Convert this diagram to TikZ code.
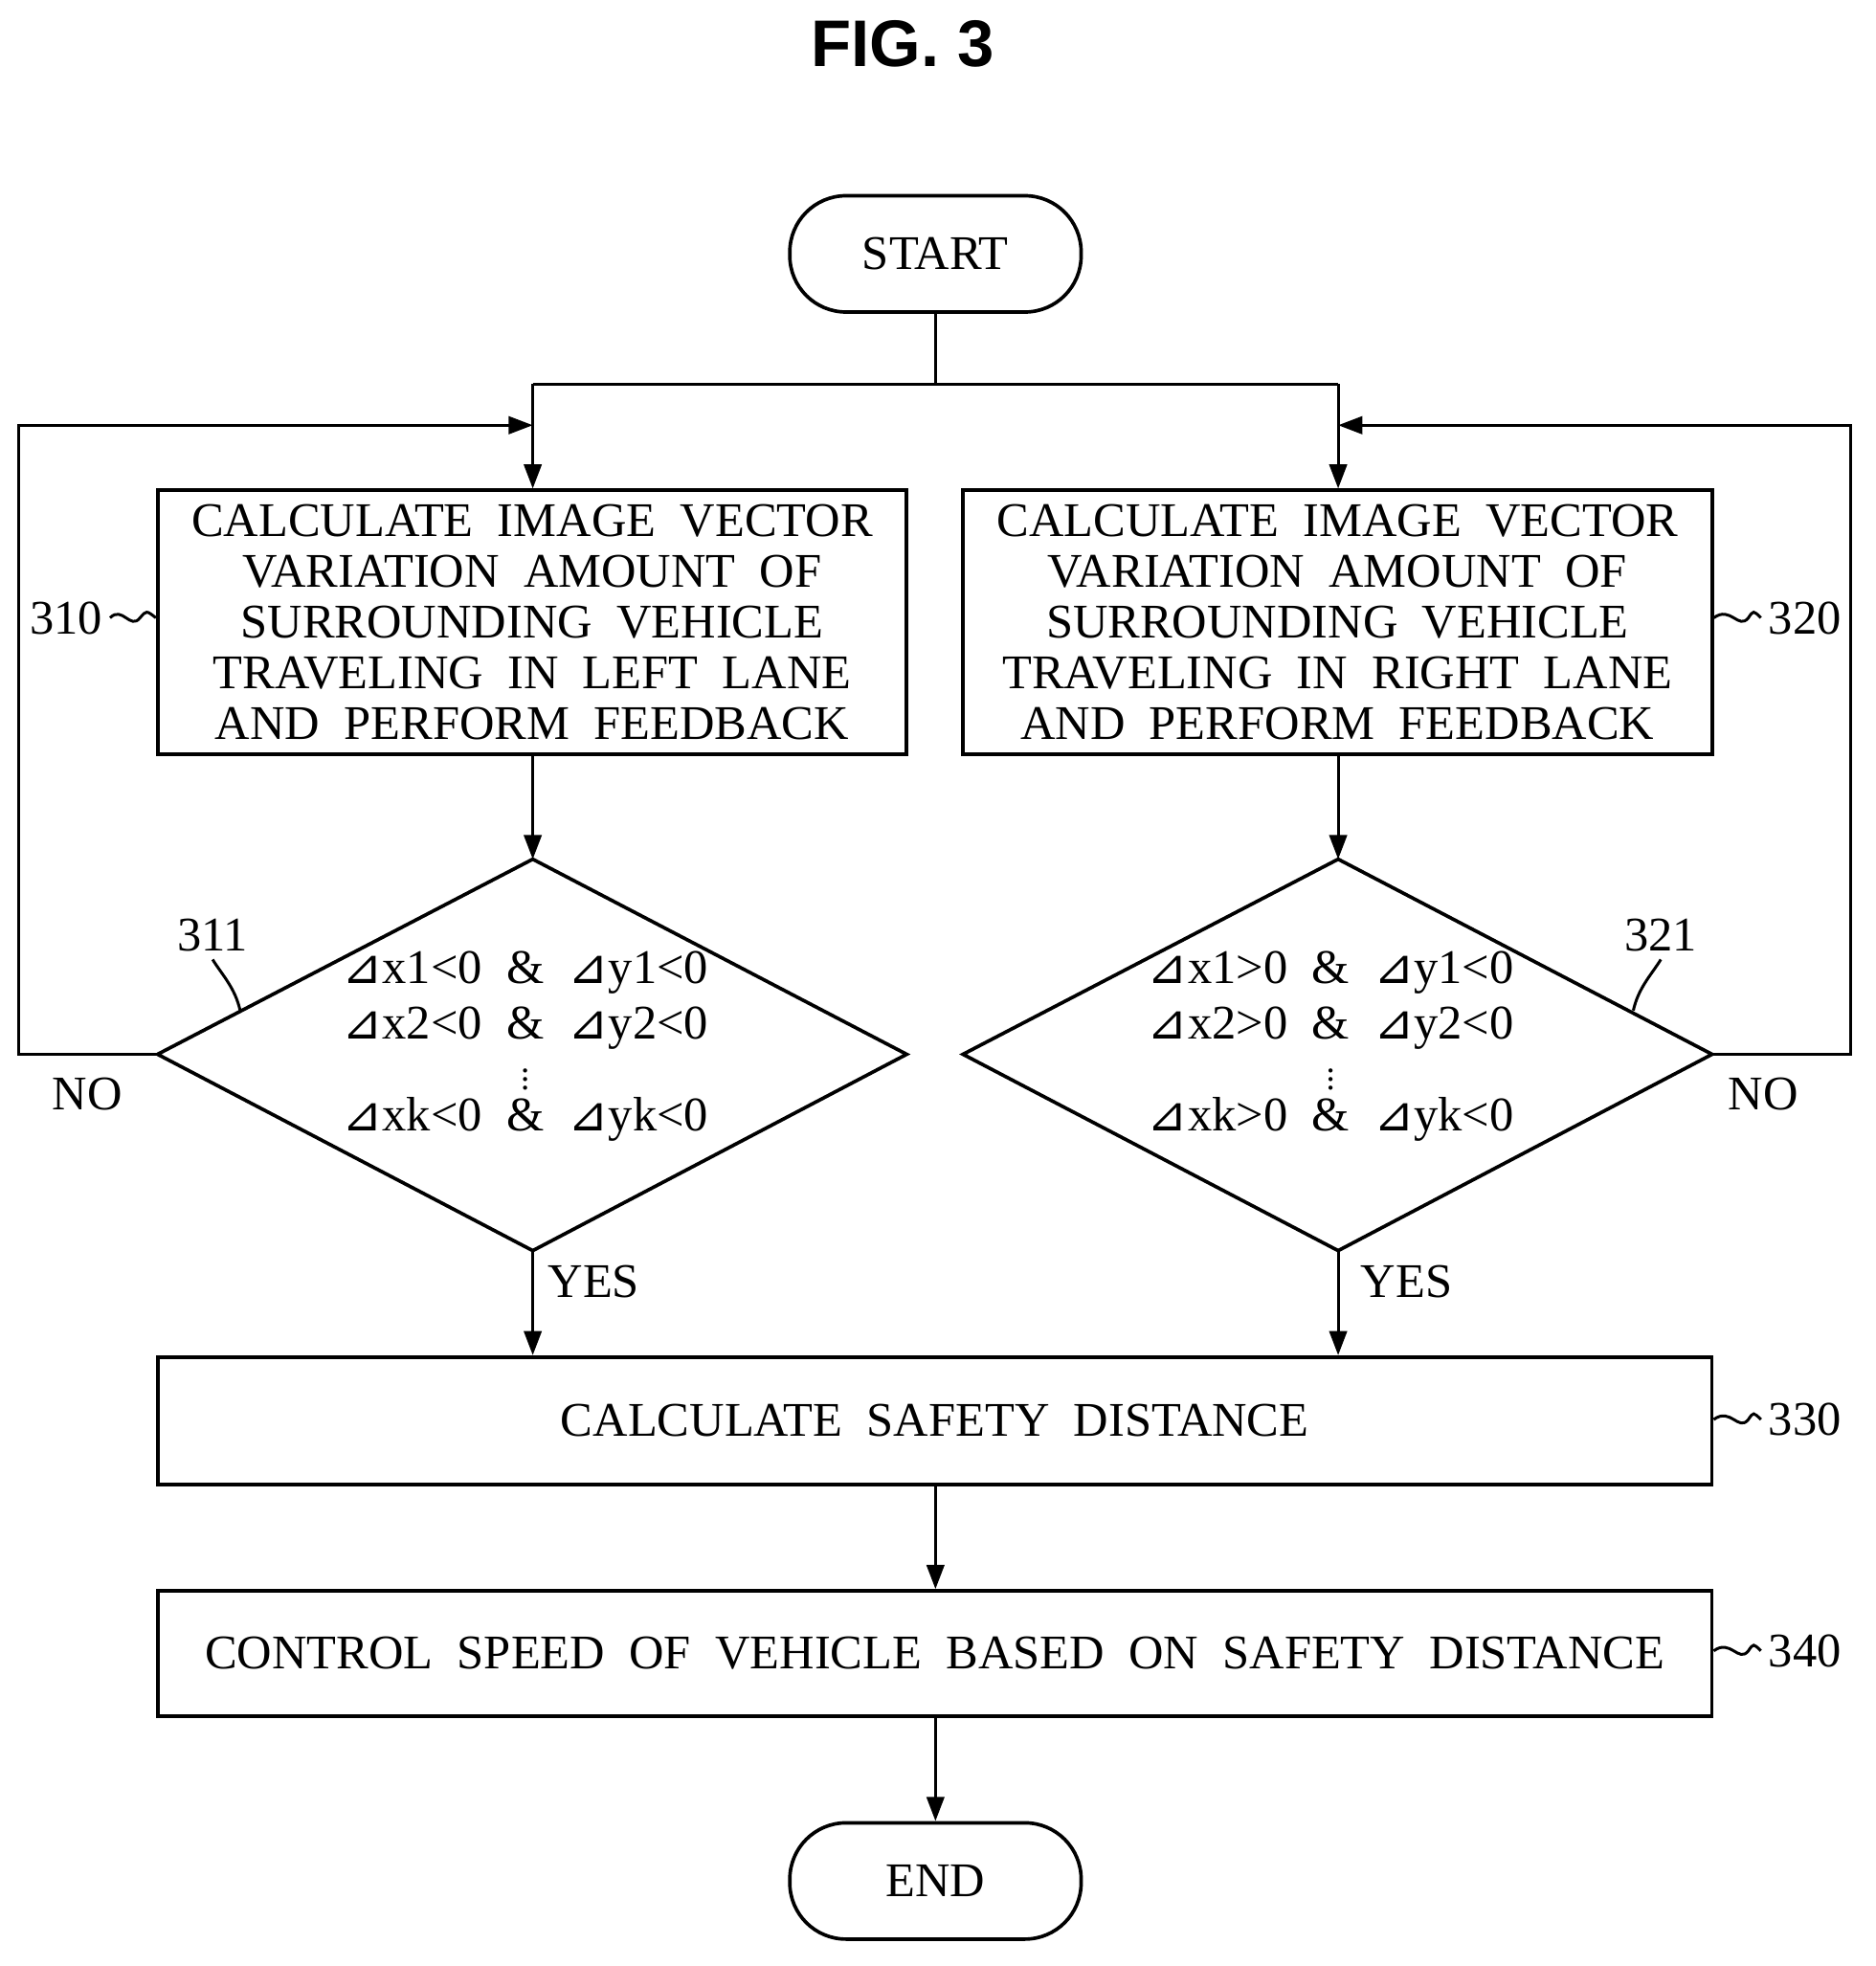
\documentclass[tikz,border=0pt]{standalone}
\usepackage{fontspec}
\setmainfont{Liberation Serif}
\newfontfamily\djv{DejaVu Sans}
\newfontfamily\hdr{Liberation Sans}
\usetikzlibrary{arrows.meta,shapes.geometric}
\newcommand{\dl}{{\djv ⊿}}
\begin{document}
\begin{tikzpicture}[x=0.02cm,y=-0.02cm,
  every node/.style={font=\fontsize{22}{23}\selectfont},
  box/.style={draw,line width=1.6pt,align=center,inner sep=0pt},
  pill/.style={draw,line width=1.6pt,rounded corners=0.9cm,minimum width=4.66cm,minimum height=1.86cm},
  ln/.style={line width=1.3pt},
  arr/.style={ln,-{Triangle[length=11pt,width=8pt]}},
  dots/.style={inner sep=0pt,font=\fontsize{16}{16}\selectfont},
  lab/.style={font=\fontsize{22}{23}\selectfont}]
\useasboundingbox (0,0) rectangle (1500,1572);
\node[font=\hdr\bfseries\fontsize{30}{32}\selectfont] (title) at (722,35) {FIG. 3};
\node[pill] (start) at (748,203) {START};
\node[pill] (end) at (748,1504) {END};
\node[box,minimum width=11.98cm,minimum height=4.22cm] (b310) at (425.5,497.5) {CALCULATE \ IMAGE \ VECTOR\\VARIATION \ AMOUNT \ OF\\SURROUNDING \ VEHICLE\\TRAVELING \ IN \ LEFT \ LANE\\AND \ PERFORM \ FEEDBACK};
\node[box,minimum width=11.98cm,minimum height=4.22cm] (b320) at (1069.5,497.5) {CALCULATE \ IMAGE \ VECTOR\\VARIATION \ AMOUNT \ OF\\SURROUNDING \ VEHICLE\\TRAVELING \ IN \ RIGHT \ LANE\\AND \ PERFORM \ FEEDBACK};
\node[box,minimum width=24.86cm,minimum height=2.04cm] (b330) at (747.5,1136) {CALCULATE \ SAFETY \ DISTANCE};
\node[box,minimum width=24.86cm,minimum height=2.0cm] (b340) at (747.5,1322) {CONTROL \ SPEED \ OF \ VEHICLE \ BASED \ ON \ SAFETY \ DISTANCE};
% diamonds
\coordinate (d1t) at (426,687); \coordinate (d1b) at (426,1000);
\coordinate (d1l) at (126,843); \coordinate (d1r) at (725,843);
\coordinate (d2t) at (1070,687); \coordinate (d2b) at (1070,1000);
\coordinate (d2l) at (770,843); \coordinate (d2r) at (1369,843);
\draw[line width=1.6pt] (d1t)--(d1r)--(d1b)--(d1l)--cycle;
\draw[line width=1.6pt] (d2t)--(d2r)--(d2b)--(d2l)--cycle;
\node[inner sep=0pt] (d1a) at (420,778) {\dl x1<0 \ \& \ \dl y1<0};
\node[inner sep=0pt] (d1c) at (420,822) {\dl x2<0 \ \& \ \dl y2<0};
\node[dots] (d1d) at (420,858) {$\vdots$};
\node[inner sep=0pt] (d1e) at (420,895) {\dl xk<0 \ \& \ \dl yk<0};
\node[inner sep=0pt] (d2a) at (1064,778) {\dl x1>0 \ \& \ \dl y1<0};
\node[inner sep=0pt] (d2c) at (1064,822) {\dl x2>0 \ \& \ \dl y2<0};
\node[dots] (d2d) at (1064,858) {$\vdots$};
\node[inner sep=0pt] (d2e) at (1064,895) {\dl xk>0 \ \& \ \dl yk<0};
% connectors
\coordinate (j) at (748,307);
\coordinate (jl) at (426,307); \coordinate (jr) at (1070,307);
\draw[ln] (start.south)--(j);
\draw[ln] (jl)--(jr);
\draw[arr] (jl)--(b310.north -| jl);
\draw[arr] (jr)--(b320.north -| jr);
\draw[arr] (b310.south -| d1t)--(d1t);
\draw[arr] (b320.south -| d2t)--(d2t);
\draw[arr] (d1b)--(b330.north -| d1b);
\draw[arr] (d2b)--(b330.north -| d2b);
\draw[arr] (b330.south -| j)--(b340.north -| j);
\draw[arr] (b340.south -| j)--(end.north);
\coordinate (l1) at (15,843); \coordinate (l2) at (15,340);
\coordinate (r1) at (1480,843); \coordinate (r2) at (1480,340);
\draw[arr] (d1l)--(l1)--(l2)--(l2 -| jl);
\draw[arr] (d2r)--(r1)--(r2)--(r2 -| jr);
% labels
\node[lab] (no1) at (70,875) {NO};
\node[lab] (no2) at (1410,875) {NO};
\node[lab,anchor=west] (y1) at (432,1025) {YES};
\node[lab,anchor=west] (y2) at (1082,1025) {YES};
\node[lab,anchor=east] (n310) at (88,494) {310};
\node[lab,anchor=west] (n320) at (1408,494) {320};
\node[lab,anchor=west] (n330) at (1408,1135) {330};
\node[lab,anchor=west] (n340) at (1408,1320) {340};
\node[lab] (n311) at (170,748) {311};
\node[lab] (n321) at (1328,748) {321};
\draw[ln] (n310.east) .. controls (98,484) and (104,504) .. (112,494) .. controls (117,488) .. (b310.west |- n310);
\draw[ln] (b320.east |- n320) .. controls (1384,484) and (1390,504) .. (1398,494) .. controls (1402,488) .. (n320.west);
\draw[ln] (b330.east |- n330) .. controls (1384,1125) and (1390,1145) .. (1398,1135) .. controls (1402,1129) .. (n330.west);
\draw[ln] (b340.east |- n340) .. controls (1384,1310) and (1390,1330) .. (1398,1320) .. controls (1402,1314) .. (n340.west);
\coordinate (c311) at (192,808); \coordinate (c321) at (1306,808);
\draw[ln] (n311.south) .. controls (178,780) and (188,790) .. (c311);
\draw[ln] (n321.south) .. controls (1320,780) and (1310,790) .. (c321);
\end{tikzpicture}
\end{document}
